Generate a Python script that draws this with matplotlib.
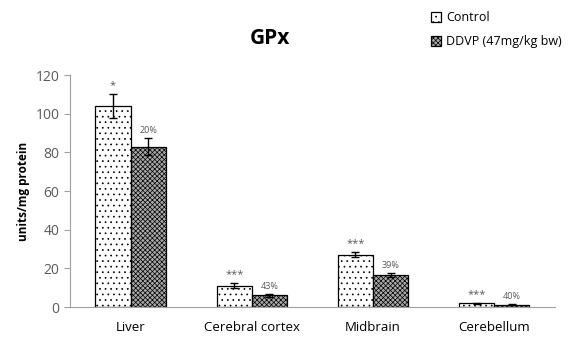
import numpy as np
import matplotlib
matplotlib.use('Agg')
import matplotlib.pyplot as plt

# data
regions = ['Liver', 'Cerebral cortex', 'Midbrain', 'Cerebellum']
control = [104, 11, 27, 2]
control_err = [6, 1.2, 1.3, 0.3]
ddvp = [83, 6, 16.5, 1.2]
ddvp_err = [4.5, 0.6, 1.0, 0.2]
control_marks = ['*', '***', '***', '***']
ddvp_marks = ['20%', '43%', '39%', '40%']

plt.rcParams['font.family'] = ['Open Sans', 'DejaVu Sans']
plt.rcParams['hatch.linewidth'] = 0.5

fig = plt.figure(figsize=(5.71, 3.38), dpi=100)
ax = fig.add_axes([0.1226, 0.0917, 0.849, 0.686])

x = np.arange(len(regions))
w = 0.29
grey = '#595959'

ax.bar(x - w/2, control, w, color='white', edgecolor='black', hatch='...',
       linewidth=0.9, label='Control')
ax.bar(x + w/2, ddvp, w, color='#a8a8a8', edgecolor='black', hatch='xxxxxxx',
       linewidth=0.9, label='DDVP (47mg/kg bw)')
ax.errorbar(x - w/2, control, yerr=control_err, fmt='none', ecolor='black',
            elinewidth=1, capsize=3, capthick=1)
ax.errorbar(x + w/2, ddvp, yerr=ddvp_err, fmt='none', ecolor='black',
            elinewidth=1, capsize=3, capthick=1)

for i in range(len(regions)):
    ax.text(x[i] - w/2, control[i] + control_err[i] + 1.5, control_marks[i],
            ha='center', va='bottom', fontsize=8, color=grey)
    ax.text(x[i] + w/2, ddvp[i] + ddvp_err[i] + 1.5, ddvp_marks[i],
            ha='center', va='bottom', fontsize=6.5, color=grey)

ax.set_xlim(-0.5, len(regions) - 0.5)
ax.set_ylim(0, 120)
ax.set_yticks(range(0, 121, 20))
ax.set_xticks(x)
ax.set_xticklabels(regions, fontsize=9.5, color='black')
ax.tick_params(axis='x', length=0, pad=10)
ax.tick_params(axis='y', labelsize=10, labelcolor=grey, color='#a0a0a0', length=4)
for s in ['top', 'right']:
    ax.spines[s].set_visible(False)
for s in ['left', 'bottom']:
    ax.spines[s].set_color('#a0a0a0')
ax.set_ylabel('units/mg protein', fontsize=8.5, fontweight='bold')

fig.text(0.473, 0.885, 'GPx', ha='center', va='center', fontsize=15, fontweight='bold')
fig.legend(loc='upper left', bbox_to_anchor=(0.735, 1.0), frameon=False,
           fontsize=9, handlelength=0.8, handleheight=0.8, handletextpad=0.4,
           labelspacing=0.9)

fig.savefig('out.png', dpi=100)
